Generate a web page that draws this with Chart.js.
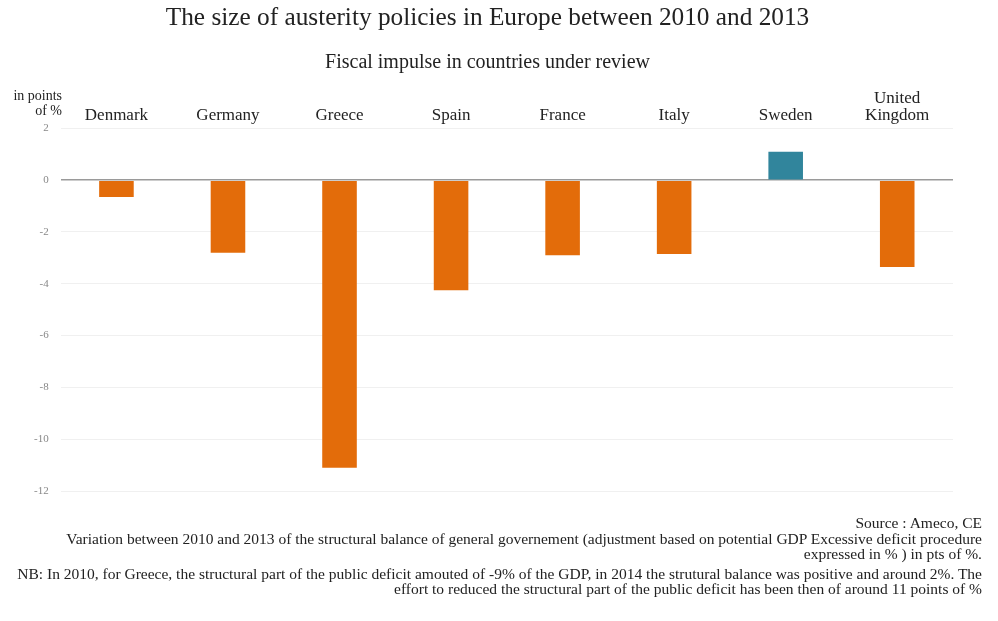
<!DOCTYPE html>
<html>
<head>
<meta charset="utf-8">
<script src="https://cdn.jsdelivr.net/npm/chart.js@4.4.0/dist/chart.umd.min.js"></script>
<style>
  html, body { margin: 0; padding: 0; background: #fff; }
  #wrap { position: relative; width: 998px; height: 621px; }
  #notes {
    position: absolute; right: 16px; top: 515px; width: 975px;
    text-align: right; font-family: "Liberation Serif", serif; font-size: 15.5px;
    color: #222; line-height: 15.5px;
  }
  #notes p { margin: 0; }
  #notes .nb { margin-top: 4px; }
</style>
</head>
<body>
<div id="wrap">
  <canvas id="chart" width="998" height="621"></canvas>
  <div id="notes">
    <p>Source : Ameco, CE</p>
    <p>Variation between 2010 and 2013 of the structural balance of general governement (adjustment based on potential GDP Excessive deficit procedure<br>expressed in % ) in pts of %.</p>
    <p class="nb">NB: In 2010, for Greece, the structural part of the public deficit amouted of -9% of the GDP, in 2014 the strutural balance was positive and around 2%. The<br>effort to reduced the structural part of the public deficit has been then of around 11 points of %</p>
  </div>
</div>
<script>
// Data
const countries = ['Denmark', 'Germany', 'Greece', 'Spain', 'France', 'Italy', 'Sweden', ['United', 'Kingdom']];
const fiscalImpulse = [-0.65, -2.8, -11.1, -4.25, -2.9, -2.85, 1.1, -3.35];
const yTicks = [2, 0, -2, -4, -6, -8, -10, -12];

const serif = '"Liberation Serif", "DejaVu Serif", serif';

// unit label top-left
const unitLabel = {
  id: 'unitLabel',
  afterDraw(chart) {
    const c = chart.ctx;
    c.save();
    c.font = '14px ' + serif;
    c.fillStyle = '#222';
    c.textAlign = 'right';
    c.textBaseline = 'middle';
    c.fillText('in points', 62, 96);
    c.fillText('of %', 62, 111);
    c.restore();
  }
};

const ctx = document.getElementById('chart').getContext('2d');
new Chart(ctx, {
  type: 'bar',
  data: {
    labels: countries,
    datasets: [{
      data: fiscalImpulse,
      backgroundColor: fiscalImpulse.map(v => v >= 0 ? '#31859c' : '#e36c0a'),
      borderWidth: 0,
      barPercentage: 0.62,
      categoryPercentage: 0.5
    }]
  },
  options: {
    responsive: false,
    animation: false,
    layout: { padding: { top: 0, left: 22, right: 45, bottom: 130 } },
    plugins: {
      legend: { display: false },
      tooltip: { enabled: false },
      title: {
        display: true,
        text: 'The size of austerity policies in Europe between 2010 and 2013',
        font: { family: serif, size: 25.3, weight: 'normal', lineHeight: 1.2 },
        color: '#222',
        padding: { top: 3, bottom: 17 }
      },
      subtitle: {
        display: true,
        text: 'Fiscal impulse in countries under review',
        font: { family: serif, size: 20, lineHeight: 1.2 },
        color: '#222',
        padding: { top: 0, bottom: 12 }
      }
    },
    scales: {
      x: {
        position: 'top',
        grid: { display: false, drawTicks: false },
        border: { display: false },
        ticks: {
          color: '#222',
          font: { family: serif, size: 17, lineHeight: 1.0 },
          padding: 4,
          maxRotation: 0,
          autoSkip: false
        }
      },
      y: {
        min: -12,
        max: 2,
        border: { display: false },
        grid: {
          drawTicks: false,
          color: c => c.tick && c.tick.value === 0 ? '#9a9a9a' : '#f0f0f0',
          lineWidth: c => c.tick && c.tick.value === 0 ? 1.5 : 1
        },
        afterBuildTicks: axis => { axis.ticks = yTicks.map(v => ({ value: v })); },
        ticks: {
          color: '#888',
          font: { family: serif, size: 11 },
          padding: 12
        }
      }
    }
  },
  plugins: [unitLabel]
});
</script>
</body>
</html>
